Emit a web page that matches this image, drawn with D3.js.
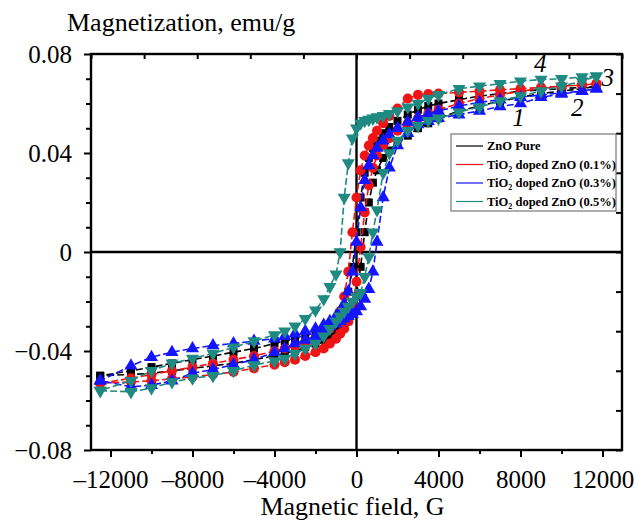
<!DOCTYPE html>
<html>
<head>
<meta charset="utf-8">
<script src="https://cdn.jsdelivr.net/npm/d3@7"></script>
<style>
  body { margin: 0; background: #fff; }
  text { font-family: "Liberation Serif", "Times New Roman", Times, serif; }
</style>
</head>
<body>
<div id="chart"></div>
<script>
// field grid for the descending branch (the ascending branch runs the other way)
var fieldDown = [11700, 11000, 10000, 9000, 8000, 7000, 6000, 5000, 4000, 3500, 3000, 2500, 2000, 1600, 1300, 1000, 800, 600, 400, 200, 0,
  -200, -400, -600, -800, -1000, -1300, -1600, -2000, -2500, -3000, -3500, -4000, -5000, -6000, -7000, -8000, -9000, -10000, -11000, -12500];
var fieldUp = fieldDown.slice().reverse();

var seriesNames = ["ZnO Pure", "TiO2 doped ZnO (0.1%)", "TiO2 doped ZnO (0.3%)", "TiO2 doped ZnO (0.5%)"];

// magnetization, emu/g
var pureDown = [0.067, 0.0665, 0.066, 0.0655, 0.065, 0.064, 0.063, 0.0615, 0.060, 0.059, 0.0575, 0.0555, 0.053, 0.0505, 0.048, 0.045, 0.042, 0.038, 0.032, 0.022, 0.008,
  -0.006, -0.016, -0.022, -0.026, -0.028, -0.030, -0.0315, -0.033, -0.034, -0.035, -0.036, -0.037, -0.039, -0.0405, -0.042, -0.0435, -0.045, -0.0465, -0.048, -0.050];
var pureUp = [-0.050, -0.0495, -0.049, -0.048, -0.047, -0.046, -0.045, -0.0435, -0.042, -0.041, -0.040, -0.0385, -0.037, -0.0355, -0.034, -0.0325, -0.031, -0.0295, -0.028, -0.025, -0.018,
  -0.006, 0.008, 0.020, 0.028, 0.033, 0.038, 0.041, 0.044, 0.047, 0.050, 0.052, 0.054, 0.057, 0.059, 0.061, 0.0625, 0.064, 0.065, 0.066, 0.067];

var d01Down = [0.068, 0.0675, 0.067, 0.0665, 0.066, 0.0655, 0.065, 0.0645, 0.064, 0.0638, 0.0635, 0.062, 0.058, 0.055, 0.052, 0.049, 0.046, 0.043, 0.039, 0.033, 0.022,
  0.008, -0.008, -0.018, -0.024, -0.028, -0.031, -0.033, -0.035, -0.0365, -0.038, -0.039, -0.040, -0.042, -0.0435, -0.045, -0.0465, -0.048, -0.0495, -0.051, -0.053];
var d01Up = [-0.053, -0.0525, -0.052, -0.0512, -0.0505, -0.0495, -0.0485, -0.047, -0.0455, -0.0445, -0.0435, -0.042, -0.0405, -0.039, -0.037, -0.035, -0.033, -0.031, -0.028, -0.022, -0.012,
  0.002, 0.016, 0.027, 0.034, 0.039, 0.043, 0.046, 0.049, 0.052, 0.054, 0.056, 0.0575, 0.060, 0.062, 0.0635, 0.065, 0.066, 0.067, 0.0675, 0.068];

var d03Down = [0.066, 0.065, 0.0643, 0.0635, 0.0625, 0.0615, 0.0605, 0.059, 0.057, 0.0558, 0.0545, 0.0525, 0.050, 0.0475, 0.045, 0.042, 0.039, 0.035, 0.029, 0.018, 0.004,
  -0.008, -0.016, -0.021, -0.024, -0.026, -0.028, -0.0295, -0.031, -0.032, -0.033, -0.034, -0.035, -0.036, -0.037, -0.0378, -0.039, -0.0405, -0.0425, -0.046, -0.052];
var d03Up = [-0.052, -0.0545, -0.0538, -0.052, -0.049, -0.0475, -0.0455, -0.0435, -0.0405, -0.039, -0.037, -0.0355, -0.034, -0.032, -0.030, -0.029, -0.028, -0.027, -0.026, -0.025, -0.024,
  -0.022, -0.019, -0.015, -0.008, 0.004, 0.022, 0.034, 0.043, 0.048, 0.0515, 0.0528, 0.054, 0.0555, 0.057, 0.0588, 0.060, 0.0625, 0.0638, 0.065, 0.066];

var d05Down = [0.071, 0.0707, 0.070, 0.0697, 0.069, 0.068, 0.067, 0.066, 0.0635, 0.062, 0.060, 0.0585, 0.057, 0.0558, 0.055, 0.0545, 0.054, 0.0535, 0.053, 0.052, 0.050,
  0.046, 0.036, 0.022, 0.000, -0.009, -0.014, -0.019, -0.0235, -0.027, -0.030, -0.032, -0.0335, -0.036, -0.0385, -0.041, -0.043, -0.045, -0.048, -0.052, -0.056];
var d05Up = [-0.056, -0.0565, -0.055, -0.0525, -0.051, -0.050, -0.048, -0.0457, -0.044, -0.043, -0.041, -0.039, -0.037, -0.034, -0.031, -0.028, -0.026, -0.024, -0.022, -0.020, -0.018,
  -0.0165, -0.010, -0.002, 0.008, 0.017, 0.032, 0.040, 0.045, 0.049, 0.051, 0.053, 0.054, 0.0565, 0.0586, 0.061, 0.063, 0.065, 0.067, 0.069, 0.071];

var fieldTicks = [-12000, -8000, -4000, 0, 4000, 8000, 12000];
var fieldMinor = [-10000, -6000, -2000, 2000, 6000, 10000];
var magTicks = [-0.08, -0.04, 0, 0.04, 0.08];
var magMinor = [-0.07, -0.06, -0.05, -0.03, -0.02, -0.01, 0.01, 0.02, 0.03, 0.05, 0.06, 0.07];

var curveLabels = ["1", "2", "3", "4"];
var curveLabelH = [7900, 10770, 12250, 8960];
var curveLabelM = [0.0541, 0.0582, 0.0703, 0.0760];

var colors = ["#000000", "#f01414", "#1414ff", "#1e8a82"];
var symbols = [d3.symbolSquare, d3.symbolCircle, d3.symbolTriangle, d3.symbolTriangle];
var symbolSizes = [64, 80, 74, 74];
var symbolRotate = [0, 0, 0, 180];

var downs = [pureDown, d01Down, d03Down, d05Down];
var ups = [pureUp, d01Up, d03Up, d05Up];

var W = 636, H = 520;
var margin = { top: 54, right: 14, bottom: 70, left: 91 },
  width = W - margin.left - margin.right,
  height = H - margin.top - margin.bottom;

var svg = d3.select("#chart")
  .append("svg")
  .attr("width", W)
  .attr("height", H)
  .append("g")
  .attr("transform", "translate(" + margin.left + "," + margin.top + ")");

var x = d3.scaleLinear().domain([-12950, 12950]).range([0, width]);
var y = d3.scaleLinear().domain([-0.08, 0.08]).range([height, 0]);

var dash = function (s) { return s.replace("-", "\u2013"); };
var serif = "'Liberation Serif', 'Times New Roman', Times, serif";

// bottom axis
svg.append("g")
  .attr("transform", "translate(0," + height + ")")
  .call(d3.axisBottom(x).tickValues(fieldTicks).tickSize(7).tickPadding(13)
    .tickFormat(function (d) { return dash(String(d)); }));
svg.append("g")
  .attr("transform", "translate(0," + height + ")")
  .call(d3.axisBottom(x).tickValues(fieldMinor).tickSize(4).tickFormat(""));

// left axis
svg.append("g")
  .call(d3.axisLeft(y).tickValues(magTicks).tickSize(7).tickPadding(12)
    .tickFormat(function (d) { return d === 0 ? "0" : dash(d3.format(".2f")(d)); }));
svg.append("g")
  .call(d3.axisLeft(y).tickValues(magMinor).tickSize(5).tickFormat(""));

// top and right frame ticks (ten equal divisions)
var div = d3.scaleLinear().domain([0, 10]);
svg.append("g")
  .call(d3.axisBottom(div.copy().range([0, width])).ticks(10).tickSize(5).tickFormat(""));
svg.append("g")
  .attr("transform", "translate(" + width + ",0)")
  .call(d3.axisLeft(div.copy().range([height, 0])).ticks(10).tickSize(6).tickFormat(""));

svg.selectAll(".domain").remove();
svg.selectAll(".tick line").attr("stroke", "#000").attr("stroke-width", 2);
svg.selectAll(".tick text")
  .attr("fill", "#000")
  .style("font-size", "25px")
  .style("font-family", serif);

// frame
svg.append("rect")
  .attr("width", width).attr("height", height)
  .attr("fill", "none").attr("stroke", "#000").attr("stroke-width", 2.4);

// zero lines
svg.append("line")
  .attr("x1", 0).attr("x2", width)
  .attr("y1", y(0)).attr("y2", y(0))
  .attr("stroke", "#000").attr("stroke-width", 2.4);
svg.append("line")
  .attr("x1", x(0)).attr("x2", x(0))
  .attr("y1", 0).attr("y2", height)
  .attr("stroke", "#000").attr("stroke-width", 2.4);

// loops
var line = d3.line()
  .x(function (d) { return x(d[0]); })
  .y(function (d) { return y(d[1]); });

downs.forEach(function (down, i) {
  var pts = fieldDown.map(function (h, j) { return [h, down[j]]; })
    .concat(fieldUp.map(function (h, j) { return [h, ups[i][j]]; }));
  var g = svg.append("g");
  g.append("path")
    .datum(pts)
    .attr("d", line)
    .attr("fill", "none")
    .attr("stroke", colors[i])
    .attr("stroke-width", 1.6)
    .attr("stroke-dasharray", "7,3");
  g.selectAll("path.pt")
    .data(pts)
    .enter()
    .append("path")
    .attr("class", "pt")
    .attr("d", d3.symbol().type(symbols[i]).size(symbolSizes[i]))
    .attr("transform", function (d) {
      return "translate(" + x(d[0]) + "," + y(d[1]) + ") rotate(" + symbolRotate[i] + ")";
    })
    .attr("fill", colors[i]);
});

// curve numbers
svg.selectAll("text.num")
  .data(curveLabels)
  .enter()
  .append("text")
  .attr("class", "num")
  .attr("x", function (d, i) { return x(curveLabelH[i]); })
  .attr("y", function (d, i) { return y(curveLabelM[i]) + 8; })
  .attr("text-anchor", "middle")
  .style("font-size", "25px")
  .style("font-style", "italic")
  .text(function (d) { return d; });

// legend
var legend = svg.append("g")
  .attr("transform", "translate(" + (451 - margin.left) + "," + (134 - margin.top) + ")");
legend.append("rect")
  .attr("width", 165).attr("height", 77)
  .attr("fill", "#fff").attr("stroke", "#777").attr("stroke-width", 1.2);
seriesNames.forEach(function (name, i) {
  var ly = 12 + i * 18.5;
  legend.append("line")
    .attr("x1", 5).attr("x2", 32)
    .attr("y1", ly).attr("y2", ly)
    .attr("stroke", colors[i]).attr("stroke-width", 1.2);
  var t = legend.append("text")
    .attr("x", 36).attr("y", ly + 4)
    .style("font-size", "12.5px")
    .style("font-weight", "bold");
  if (name.indexOf("TiO2") === 0) {
    t.append("tspan").text("TiO");
    t.append("tspan").attr("dy", 3).style("font-size", "8px").text("2");
    t.append("tspan").attr("dy", -3).text(name.slice(4));
  } else {
    t.text(name);
  }
});

// axis titles
svg.append("text")
  .attr("x", 67 - margin.left).attr("y", 31 - margin.top)
  .style("font-size", "26px")
  .text("Magnetization, emu/g");
svg.append("text")
  .attr("x", x(0) - 4).attr("y", 515 - margin.top)
  .attr("text-anchor", "middle")
  .style("font-size", "26px")
  .text("Magnetic field, G");
</script>
</body>
</html>
